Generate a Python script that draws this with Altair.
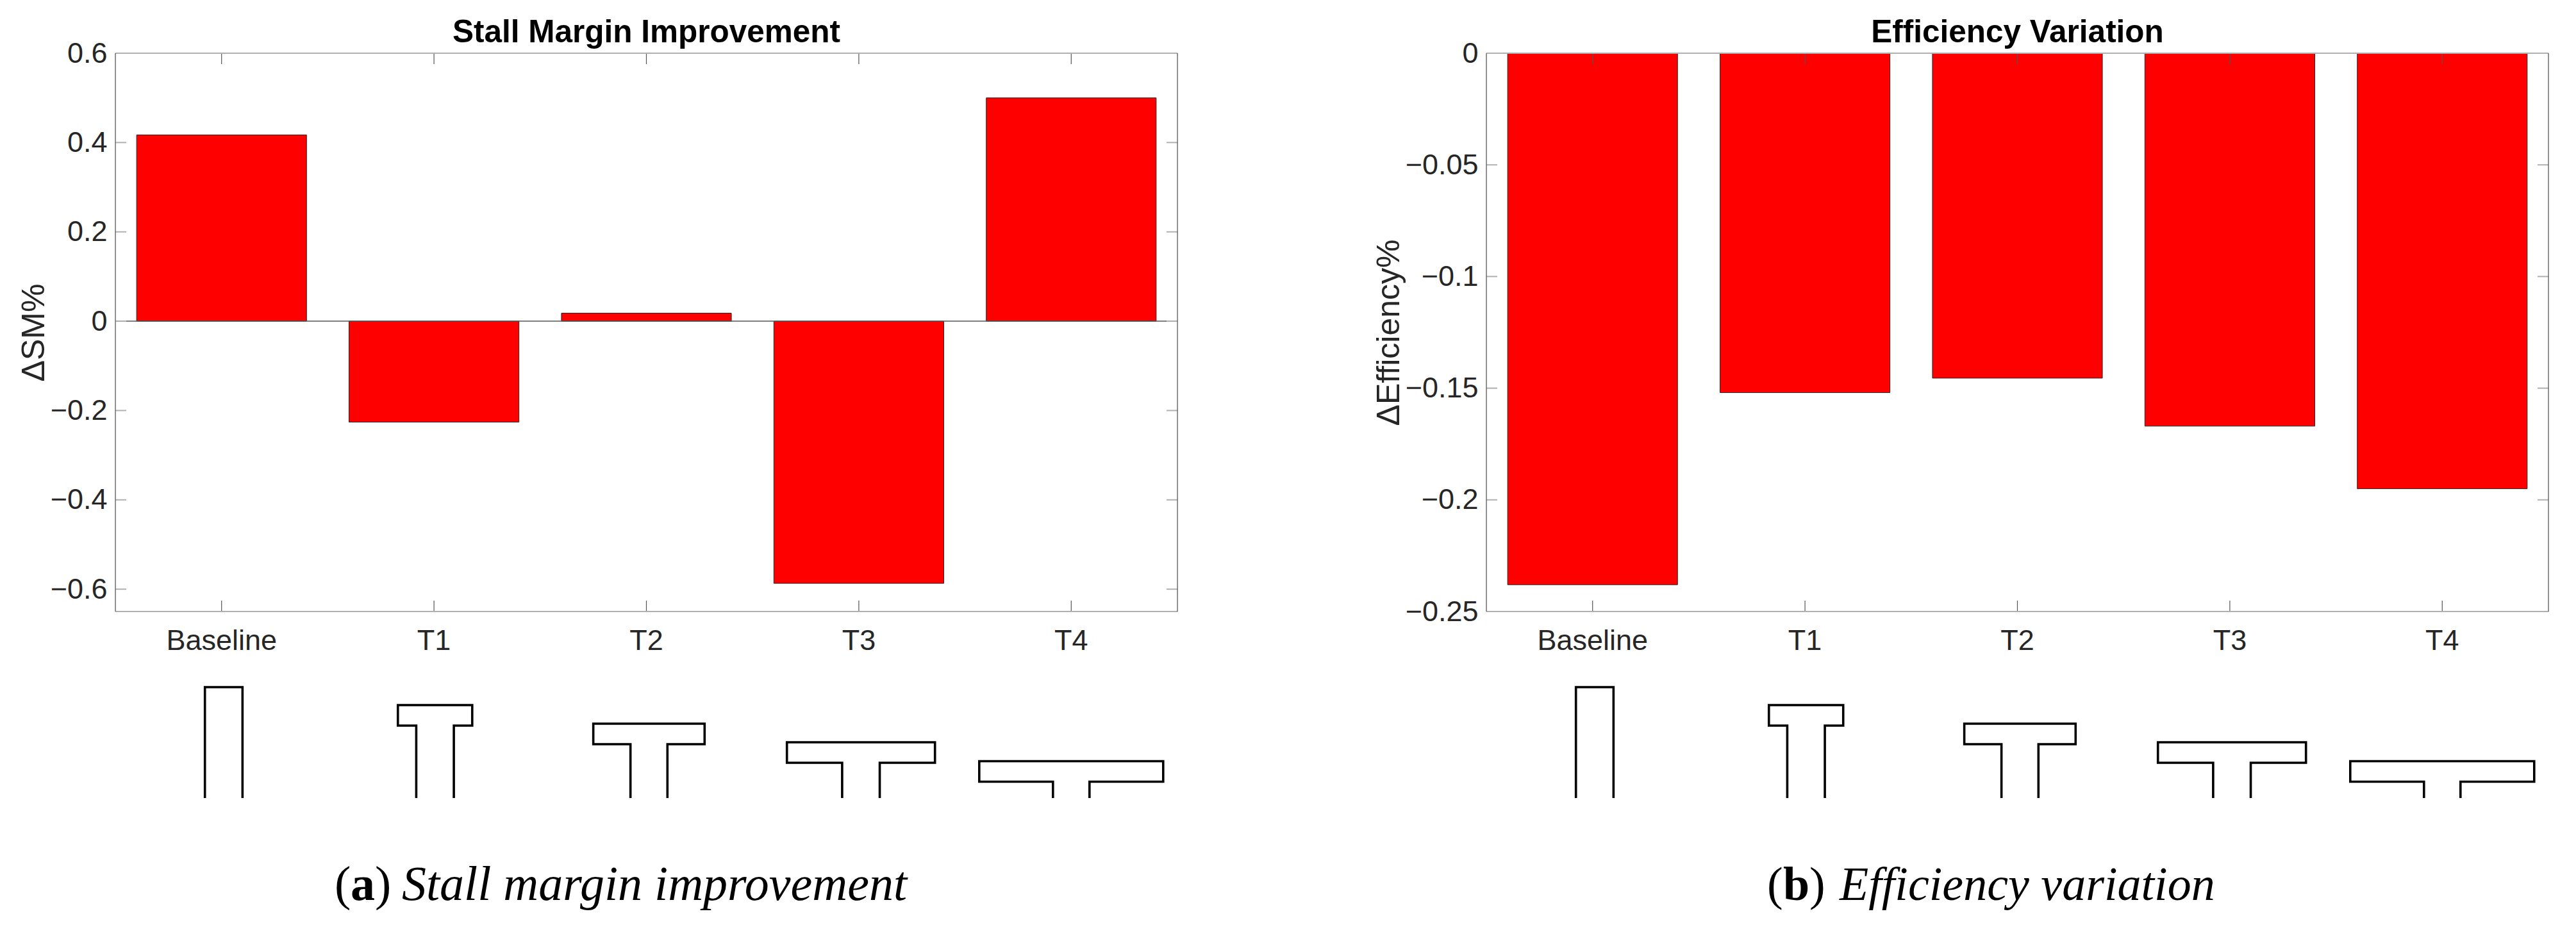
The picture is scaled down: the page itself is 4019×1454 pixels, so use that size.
import altair as alt
import pandas as pd

categories = ["Baseline", "T1", "T2", "T3", "T4"]
sm_values = [0.417, -0.226, 0.018, -0.587, 0.5]
eff_values = [-0.238, -0.152, -0.1455, -0.167, -0.195]
sm_ticks = [0.6, 0.4, 0.2, 0, -0.2, -0.4, -0.6]
eff_ticks = [0, -0.05, -0.1, -0.15, -0.2, -0.25]

# schematic tip shapes, x in category steps, y in schematic units above the stem foot
shape_center = [1.01, 2.005, 3.012, 4.01, 5.0]
stem_width = [0.177, 0.177, 0.174, 0.177, 0.172]
cap_width = [0.177, 0.35, 0.524, 0.697, 0.866]
cap_top = [173, 145, 116, 87, 57.5]
cap_thick = [173, 32, 32, 32, 32]

FONT = "Liberation Sans"
SERIF = "Liberation Serif"
DARK = "#262626"
FRAME_H = "#b0b0b0"
FRAME_V = "#555555"
W, H = 1657, 871
TICK = 17


def shape_points():
    rows = []
    for i, c in enumerate(categories):
        s = stem_width[i] / 2
        k = cap_width[i] / 2
        m = shape_center[i]
        top = cap_top[i]
        low = top - cap_thick[i]
        path = [(m - s, 0), (m - s, low), (m - k, low), (m - k, top),
                (m + k, top), (m + k, low), (m + s, low), (m + s, 0)]
        for j, (px, py) in enumerate(path):
            rows.append({"shape": c, "order": j, "sx": px, "sy": py})
    return pd.DataFrame(rows)


def panel(values, ticks, domain, title, ytitle, title_pad, cap_letter, cap_text, cap_x, letter_x, close_x, text_x, cap_size):
    bars_df = pd.DataFrame({"cat": categories, "v": values})
    tick_df = pd.DataFrame({"t": ticks})
    cat_df = pd.DataFrame({"cat": categories})
    xs = alt.Scale(domain=categories, paddingInner=0.2, paddingOuter=0.1)
    ys = alt.Scale(domain=domain, nice=False, zero=False)

    bars = alt.Chart(bars_df).mark_bar(color="#ff0000", stroke=DARK, strokeWidth=1).encode(
        x=alt.X("cat:N", scale=xs, sort=categories, title=None,
                axis=alt.Axis(labelAngle=0, ticks=False, domain=False, grid=False,
                              labelFont=FONT, labelFontSize=45, labelColor=DARK,
                              labelPadding=23)),
        y=alt.Y("v:Q", scale=ys, title=ytitle,
                axis=alt.Axis(values=ticks, format="~g", ticks=False, domain=False, grid=False,
                              labelFont=FONT, labelFontSize=45, labelColor=DARK, labelPadding=13,
                              titleFont=FONT, titleFontSize=50, titleColor=DARK,
                              titleFontWeight="normal", titlePadding=title_pad)),
    )
    one = pd.DataFrame({"k": [0]})
    zero = alt.Chart(pd.DataFrame({"t": [0]})).mark_rule(color=FRAME_V, strokeWidth=1.5).encode(
        y=alt.Y("t:Q", scale=ys, axis=None))
    left = alt.Chart(tick_df).mark_rule(color=FRAME_H, strokeWidth=2).encode(
        y=alt.Y("t:Q", scale=ys, axis=None), x=alt.value(0), x2=alt.value(TICK))
    right = alt.Chart(tick_df).mark_rule(color=FRAME_H, strokeWidth=2).encode(
        y=alt.Y("t:Q", scale=ys, axis=None), x=alt.value(W - TICK), x2=alt.value(W))
    top = alt.Chart(cat_df).mark_rule(color=FRAME_V, strokeWidth=1.2).encode(
        x=alt.X("cat:N", scale=xs, sort=categories, axis=None), y=alt.value(0), y2=alt.value(TICK))
    bottom = alt.Chart(cat_df).mark_rule(color=FRAME_V, strokeWidth=1.2).encode(
        x=alt.X("cat:N", scale=xs, sort=categories, axis=None), y=alt.value(H - TICK), y2=alt.value(H))
    frame_t = alt.Chart(one).mark_rule(color=FRAME_H, strokeWidth=2).encode(
        x=alt.value(0), x2=alt.value(W), y=alt.value(0))
    frame_b = alt.Chart(one).mark_rule(color=FRAME_H, strokeWidth=2).encode(
        x=alt.value(0), x2=alt.value(W), y=alt.value(H))
    frame_l = alt.Chart(one).mark_rule(color=FRAME_V, strokeWidth=1.2).encode(
        x=alt.value(0), y=alt.value(0), y2=alt.value(H))
    frame_r = alt.Chart(one).mark_rule(color=FRAME_V, strokeWidth=1.2).encode(
        x=alt.value(W), y=alt.value(0), y2=alt.value(H))

    shapes = alt.Chart(shape_points()).mark_line(color="black", strokeWidth=3.6, interpolate="linear").encode(
        x=alt.X("sx:Q", scale=alt.Scale(domain=[0.5, 5.5], range=[0, W], nice=False, zero=False), axis=None),
        y=alt.Y("sy:Q", scale=alt.Scale(domain=[0, 173], range=[1162, 989], nice=False, zero=False), axis=None),
        detail="shape:N", order="order:Q")

    def cap(txt, x, style, weight):
        return alt.Chart(pd.DataFrame({"s": [txt]})).mark_text(
            font=SERIF, fontSize=cap_size, fontStyle=style, fontWeight=weight, color="black",
            align="left", baseline="alphabetic").encode(
            x=alt.value(x), y=alt.value(1321), text="s:N")

    caps = [cap("(", cap_x, "normal", "normal"), cap(cap_letter, letter_x, "normal", "bold"),
            cap(")", close_x, "normal", "normal"), cap(cap_text, text_x, "italic", "normal")]

    return alt.layer(bars, zero, left, right, top, bottom, frame_t, frame_b, frame_l, frame_r, shapes, *caps).resolve_scale(
        x="independent", y="independent").properties(
        width=W, height=H,
        title=alt.TitleParams(title, font=FONT, fontSize=49.5, fontWeight="bold", color="black",
                              anchor="middle", offset=-15))


a = panel(sm_values, sm_ticks, [-0.65, 0.6], "Stall Margin Improvement", "\u0394SM%", 0,
          "a", "Stall margin improvement", 342, 367, 405, 447, 76)
b = panel(eff_values, eff_ticks, [-0.25, 0], "Efficiency Variation", "\u0394Efficiency%", 0,
          "b", "Efficiency variation", 438, 463, 504, 551, 74)

chart = alt.hconcat(a, b, spacing=302).properties(
    padding={"left": 19, "top": 17, "right": 0, "bottom": 0}
).configure_view(stroke=None).configure(background="white")

chart.save("out.html", embed_options={"renderer": "svg", "actions": False})
